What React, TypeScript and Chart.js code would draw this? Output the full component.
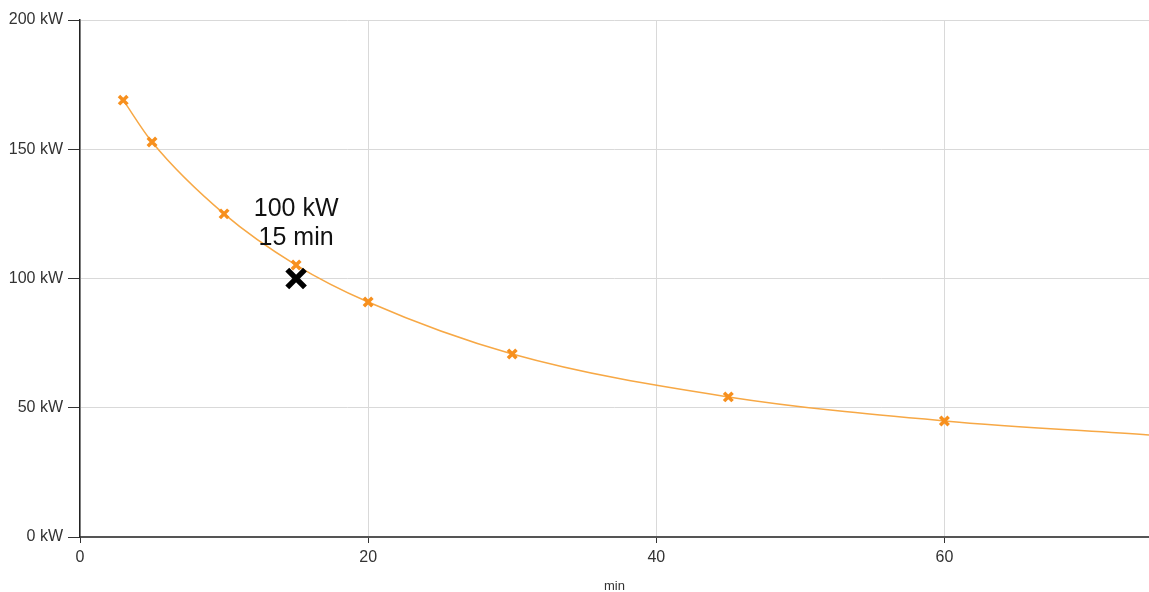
import React, { useEffect, useRef } from 'react';
import { Chart, registerables } from 'chart.js';

Chart.register(...registerables);

// Curve samples (minutes, kW). The last entry is where the curve leaves the plot (no marker).
const durationsMin = [3, 5, 10, 15, 20, 30, 45, 60, 74.2];
const powerKW = [169, 152.8, 125, 105.2, 90.9, 70.8, 54.2, 44.9, 39.5];
const markedCount = 8;

// Highlighted operating point
const pointMin = [15];
const pointKW = [100];
const pointLabel = ['100 kW', '15 min'];

// Axes
const xMin = 0;
const xMax = 74.2;
const xStep = 20;
const yMin = 0;
const yMax = 200;
const yStep = 50;
const yUnit = ' kW';
const xTitle = 'min';

const FONT = "'Liberation Sans', Arial, sans-serif";

export default function App() {
  const ref = useRef<HTMLCanvasElement | null>(null);

  useEffect(() => {
    document.body.style.margin = '0';
    document.body.style.overflow = 'hidden';
    const canvas = ref.current;
    if (!canvas) return;

    const labelPlugin = {
      id: 'pointLabel',
      afterDatasetsDraw(chart: any) {
        const { ctx, scales } = chart;
        const px = scales.x.getPixelForValue(pointMin[0]);
        const py = scales.y.getPixelForValue(pointKW[0]);
        ctx.save();
        ctx.fillStyle = '#111';
        ctx.font = `25px ${FONT}`;
        ctx.textAlign = 'center';
        ctx.textBaseline = 'middle';
        ctx.fillText(pointLabel[0], px, py - 69);
        ctx.fillText(pointLabel[1], px, py - 40);
        ctx.restore();
      },
    };

    const chart = new Chart(canvas, {
      type: 'scatter',
      data: {
        datasets: [
          {
            label: 'point',
            data: pointMin.map((x, i) => ({ x, y: pointKW[i] })),
            pointStyle: 'crossRot',
            pointRadius: 12.5,
            pointBorderWidth: 5.5,
            borderColor: '#000',
            backgroundColor: '#000',
            showLine: false,
          },
          {
            label: 'curve',
            data: durationsMin.map((x, i) => ({ x, y: powerKW[i] })),
            showLine: true,
            cubicInterpolationMode: 'monotone',
            borderColor: '#f7a845',
            borderWidth: 1.5,
            pointStyle: 'crossRot',
            pointRadius: (c: any) => (c.dataIndex < markedCount ? 6 : 0),
            pointBorderWidth: 3.5,
            pointBorderColor: '#f7901e',
            pointBackgroundColor: '#f7901e',
          } as any,
        ],
      },
      options: {
        responsive: false,
        animation: false,
        devicePixelRatio: 1,
        layout: { autoPadding: false, padding: { top: 20, right: 0, bottom: 0, left: 0 } },
        plugins: {
          legend: { display: false },
          tooltip: { enabled: false },
        },
        scales: {
          x: {
            type: 'linear',
            min: xMin,
            max: xMax,
            grid: { color: '#d9d9d9', tickColor: '#333', tickLength: 6, lineWidth: 1 },
            border: { color: '#555', width: 2 },
            ticks: {
              stepSize: xStep,
              includeBounds: false,
              color: '#333',
              padding: 5,
              font: { family: FONT, size: 16 },
            },
            title: {
              display: true,
              text: xTitle,
              color: '#333',
              padding: { top: 0, bottom: -1 },
              font: { family: FONT, size: 13, lineHeight: 1 },
            },
            afterFit(scale: any) {
              scale.height = 55;
              scale.paddingLeft = 0;
              scale.paddingRight = 0;
            },
          },
          y: {
            type: 'linear',
            min: yMin,
            max: yMax,
            grid: { color: '#d9d9d9', tickColor: '#333', tickLength: 12, lineWidth: 1 },
            border: { color: '#222', width: 1.5 },
            ticks: {
              stepSize: yStep,
              includeBounds: false,
              color: '#333',
              padding: 5,
              font: { family: FONT, size: 16 },
              callback: (v: any) => `${v}${yUnit}`,
            },
            afterFit(scale: any) {
              scale.width = 80;
            },
          },
        },
      } as any,
      plugins: [labelPlugin],
    });

    return () => chart.destroy();
  }, []);

  return (
    <div style={{ width: 1149, height: 592, background: '#fff' }}>
      <canvas ref={ref} width={1149} height={592} style={{ display: 'block' }} />
    </div>
  );
}
